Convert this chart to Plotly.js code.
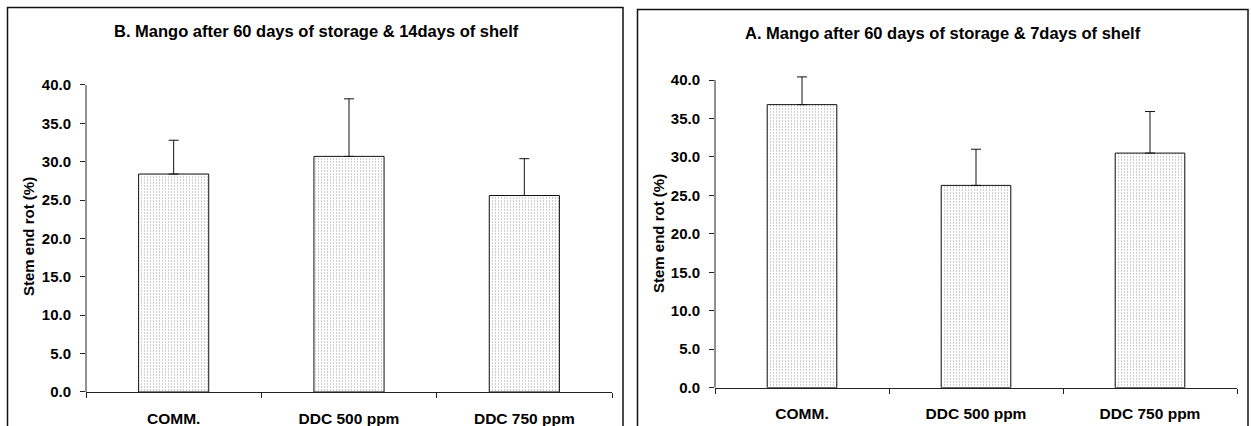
<!DOCTYPE html>
<html>
<head>
<meta charset="utf-8">
<script src="https://cdn.plot.ly/plotly-3.0.1.min.js"></script>
<style>
  html, body { margin: 0; padding: 0; background: #fff; }
  #chart { width: 1251px; height: 426px; }
</style>
</head>
<body>
<div id="chart"></div>
<script>
// Treatments on the x axis
const categories = ['COMM.', 'DDC 500 ppm', 'DDC 750 ppm'];

// Panel B: 60 days storage + 14 days shelf (mean and upper error)
const shelf14Means = [28.4, 30.7, 25.6];
const shelf14Err = [4.4, 7.5, 4.8];

// Panel A: 60 days storage + 7 days shelf (mean and upper error)
const shelf7Means = [36.8, 26.3, 30.5];
const shelf7Err = [3.6, 4.7, 5.4];

const yTickVals = [0, 5, 10, 15, 20, 25, 30, 35, 40];
const yAxisMax = 40;

const W = 1251, H = 426;
const px = v => v / W;
const py = v => (H - v) / H;

const FONT = 'Liberation Sans, Arial, Helvetica, sans-serif';

function barTrace(means, errs, xa, ya) {
  return {
    type: 'bar',
    x: categories,
    y: means,
    xaxis: xa,
    yaxis: ya,
    width: 0.4,
    cliponaxis: false,
    marker: {
      color: '#f6f6f6',
      line: { color: '#111', width: 1 },
      pattern: { shape: '.', size: 3, solidity: 0.12, fgcolor: '#8c8c8c', bgcolor: '#ffffff' }
    },
    error_y: {
      type: 'data',
      symmetric: false,
      array: errs,
      arrayminus: errs.map(() => 0),
      color: '#111',
      thickness: 1,
      width: 5
    },
    hoverinfo: 'x+y'
  };
}

const xCommon = {
  type: 'category',
  range: [-0.5, 2.5],
  showline: true,
  linecolor: '#222',
  linewidth: 1,
  ticks: 'outside',
  tickson: 'boundaries',
  ticklen: 5,
  tickcolor: '#222',
  ticklabelstandoff: 12,
  tickfont: { family: FONT, size: 15.5, weight: 'bold', color: '#000' },
  showgrid: false,
  zeroline: false,
  fixedrange: true
};

const yCommon = {
  tickvals: yTickVals,
  tickformat: '.1f',
  showline: false,
  ticks: 'outside',
  ticklen: 5,
  tickcolor: '#222',
  ticklabelstandoff: 6,
  tickfont: { family: FONT, size: 15, weight: 'bold', color: '#000' },
  showgrid: false,
  zeroline: false,
  fixedrange: true
};

// Each value axis is given a little headroom above 40 so that the
// error bar caps can rise past the top of the axis line.
const topPad = 1.5;
function yDomain(zeroPx, fortyPx) {
  const perUnit = (zeroPx - fortyPx) / yAxisMax;
  const topPx = zeroPx - (yAxisMax + topPad) * perUnit;
  return [py(zeroPx), py(topPx)];
}

const layout = {
  width: W,
  height: H,
  margin: { l: 0, r: 0, t: 0, b: 0 },
  paper_bgcolor: '#fff',
  plot_bgcolor: 'rgba(0,0,0,0)',
  showlegend: false,
  xaxis: Object.assign({}, xCommon, { domain: [px(86), px(612)], anchor: 'y' }),
  yaxis: Object.assign({}, yCommon, { range: [0, yAxisMax + topPad], domain: yDomain(392, 85), anchor: 'x' }),
  xaxis2: Object.assign({}, xCommon, { domain: [px(715), px(1237)], anchor: 'y2' }),
  yaxis2: Object.assign({}, yCommon, { range: [0, yAxisMax + topPad], domain: yDomain(387.7, 80), anchor: 'x2' }),
  shapes: [
    // panel frames
    { type: 'rect', xref: 'paper', yref: 'paper', x0: px(7.5), x1: px(623), y0: -0.1, y1: py(7.5),
      line: { color: '#111', width: 1.5 }, fillcolor: 'rgba(0,0,0,0)', layer: 'below' },
    { type: 'rect', xref: 'paper', yref: 'paper', x0: px(637.5), x1: px(1248), y0: -0.1, y1: py(9.5),
      line: { color: '#111', width: 1.5 }, fillcolor: 'rgba(0,0,0,0)', layer: 'below' },
    // value axis lines, running from 0 to 40
    { type: 'line', xref: 'x domain', yref: 'y', x0: 0, x1: 0, y0: 0, y1: yAxisMax,
      line: { color: '#222', width: 1 } },
    { type: 'line', xref: 'x2 domain', yref: 'y2', x0: 0, x1: 0, y0: 0, y1: yAxisMax,
      line: { color: '#222', width: 1 } }
  ],
  annotations: [
    { text: 'B. Mango after 60 days of storage & 14days of shelf', xref: 'paper', yref: 'paper',
      x: px(316), y: py(31), xanchor: 'center', yanchor: 'middle', showarrow: false,
      font: { family: FONT, size: 16.5, weight: 'bold', color: '#000' } },
    { text: 'A. Mango after 60 days of storage & 7days of shelf', xref: 'paper', yref: 'paper',
      x: px(943), y: py(33), xanchor: 'center', yanchor: 'middle', showarrow: false,
      font: { family: FONT, size: 16.5, weight: 'bold', color: '#000' } },
    { text: 'Stem end rot (%)', xref: 'paper', yref: 'paper', textangle: -90,
      x: px(29), y: py(237), xanchor: 'center', yanchor: 'middle', showarrow: false,
      font: { family: FONT, size: 15, weight: 'bold', color: '#000' } },
    { text: 'Stem end rot (%)', xref: 'paper', yref: 'paper', textangle: -90,
      x: px(659), y: py(234), xanchor: 'center', yanchor: 'middle', showarrow: false,
      font: { family: FONT, size: 15, weight: 'bold', color: '#000' } }
  ]
};

const data = [
  barTrace(shelf14Means, shelf14Err, 'x', 'y'),
  barTrace(shelf7Means, shelf7Err, 'x2', 'y2')
];

Plotly.newPlot('chart', data, layout, { displayModeBar: false, staticPlot: true });
</script>
</body>
</html>
